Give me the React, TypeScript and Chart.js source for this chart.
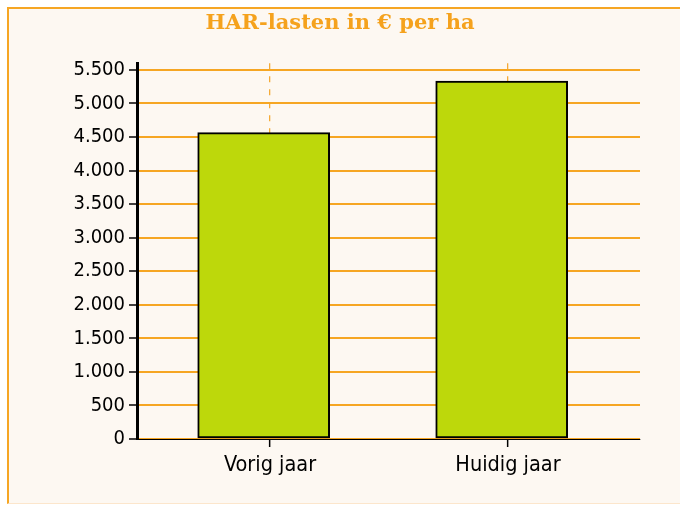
import React, { useEffect, useRef } from 'react';
import { Chart, registerables } from 'chart.js';

Chart.register(...registerables);

const titleText = 'HAR-lasten in € per ha';
const categories = ['Vorig jaar', 'Huidig jaar'];
const values = [4565, 5335];
const yTicks = [0, 500, 1000, 1500, 2000, 2500, 3000, 3500, 4000, 4500, 5000, 5500];
const yMax = 5600;

const fmt = (v: number) => String(v).replace(/\B(?=(\d{3})+(?!\d))/g, '.');

export default function App() {
  const ref = useRef<HTMLCanvasElement>(null);
  useEffect(() => {
    const tickFont = { family: 'DejaVu Sans Condensed', size: 20 };
    const xFont = { family: 'DejaVu Sans Condensed', size: 21.5 };
    const chart = new Chart(ref.current as HTMLCanvasElement, {
      type: 'bar',
      data: {
        datasets: [
          {
            data: categories.map((c, i) => ({ x: i, y: values[i] })),
            xAxisID: 'xb',
            yAxisID: 'y',
            backgroundColor: '#bdd80b',
            borderColor: '#000000',
            borderWidth: 2,
            borderSkipped: false,
            barThickness: 132,
          } as any,
        ],
      },
      options: {
        animation: false,
        responsive: false,
        layout: { padding: { left: 20, right: 20, top: 0, bottom: 0 } },
        plugins: {
          legend: { display: false },
          tooltip: { enabled: false },
          title: {
            display: true,
            text: titleText,
            color: '#f5a21d',
            font: { family: 'DejaVu Serif', size: 21, weight: 'bold' },
            padding: { top: 11, bottom: 27 },
          },
        },
        scales: {
          x: {
            type: 'linear',
            offset: false,
            min: -0.5588,
            max: 1.5546,
            afterBuildTicks: (s: any) => {
              s.ticks = categories.map((_, i) => ({ value: i }));
            },
            afterFit: (s: any) => {
              s.height = 66;
            },
            ticks: {
              callback: (v: any) => categories[v as number] ?? '',
              font: xFont,
              color: '#000',
              padding: 6,
              autoSkip: false,
              maxRotation: 0,
            },
            grid: {
              offset: false,
              color: '#f5ab38',
              lineWidth: 1.3,
              tickColor: '#000',
              tickLength: 8,
              tickWidth: 1.5,
              tickBorderDash: [],
            },
            border: { color: '#000', width: 1, dash: [6, 7] },
          } as any,
          xb: {
            type: 'linear',
            display: false,
            offset: false,
            grid: { offset: false },
            min: -0.5323,
            max: 1.5811,
          } as any,
          y: {
            min: 0,
            max: yMax,
            afterBuildTicks: (s: any) => {
              s.ticks = yTicks.map((v) => ({ value: v }));
            },
            afterFit: (s: any) => {
              s.width = 117;
            },
            ticks: {
              callback: (v: any) => fmt(v as number),
              font: tickFont,
              color: '#000',
              padding: 4,
            },
            grid: {
              color: '#f6a623',
              lineWidth: 2,
              tickColor: '#000',
              tickLength: 8,
              tickWidth: 1.5,
            },
            border: { color: '#000', width: 3 },
          } as any,
          yr: {
            type: 'linear',
            position: 'right',
            display: true,
            grid: { display: false },
            border: { display: false },
            ticks: { display: false },
            afterFit: (s: any) => {
              s.width = 20;
            },
          } as any,
        },
      },
    });
    return () => chart.destroy();
  }, []);

  return (
    <div style={{ position: 'absolute', left: 0, top: 0, width: 680, height: 505, background: '#ffffff', overflow: 'hidden' }}>
      <div
        style={{
          position: 'absolute',
          left: 7,
          top: 7,
          width: 720,
          height: 497,
          boxSizing: 'border-box',
          borderTop: '2px solid #f6a623',
          borderLeft: '2px solid #f6a623',
          borderBottom: '1px solid #fce6cc',
          background: '#fdf8f2',
        }}
      />
      <canvas ref={ref} width={680} height={505} style={{ position: 'absolute', left: 0, top: 0, width: 680, height: 505 }} />
    </div>
  );
}
